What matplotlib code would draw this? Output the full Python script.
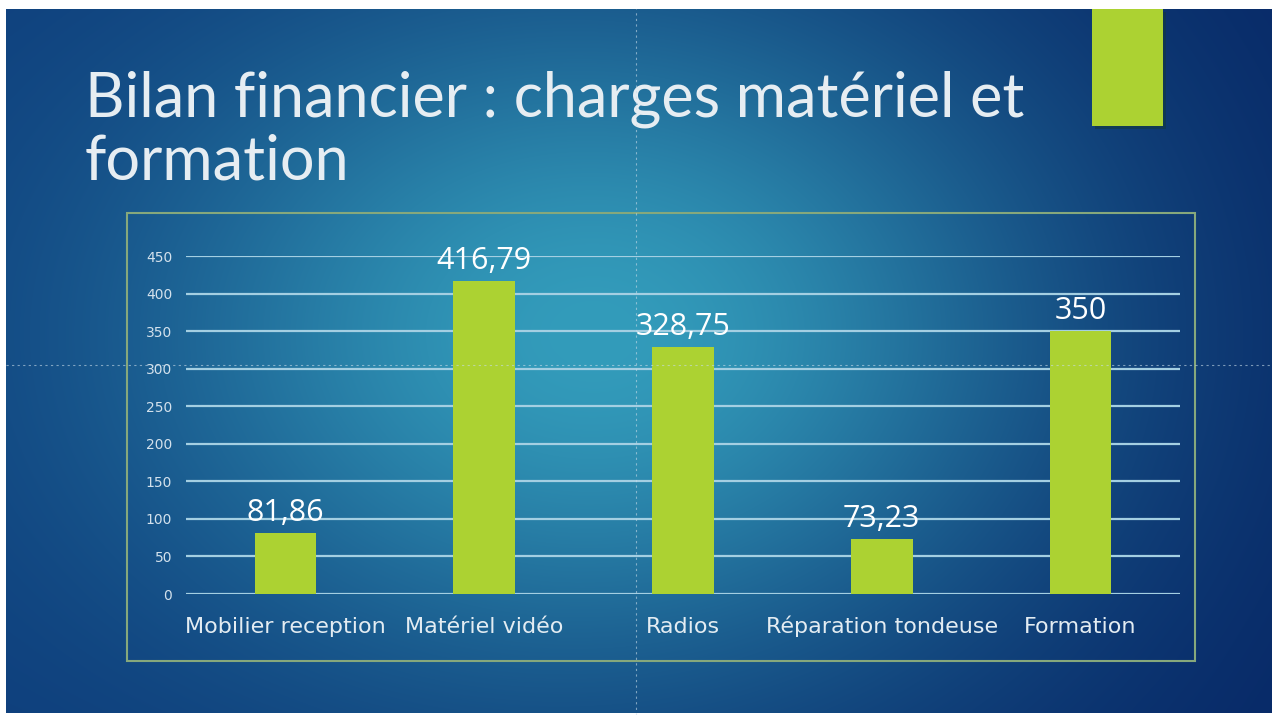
import numpy as np
import matplotlib
matplotlib.use("Agg")
from matplotlib import pyplot as plt
from matplotlib.patches import Rectangle
from matplotlib.lines import Line2D

categories = ["Mobilier reception", "Matériel vidéo", "Radios",
              "Réparation tondeuse", "Formation"]
values = [81.86, 416.79, 328.75, 73.23, 350]
value_labels = ["81,86", "416,79", "328,75", "73,23", "350"]
yticks = [0, 50, 100, 150, 200, 250, 300, 350, 400, 450]
title = "Bilan financier : charges matériel et\nformation"

W, H = 1272, 715
fig = plt.figure(figsize=(W / 100, H / 100), dpi=100)
fig.patch.set_facecolor("white")

def px(x, y):
    # pixel (top-left origin) -> figure fraction
    return x / W, 1 - y / H

# background gradient (slide)
bg = fig.add_axes([6 / W, 2 / H, (W - 6) / W, (H - 11) / H])
bg.set_axis_off()
yy, xx = np.mgrid[0:H, 0:W]
left_c = np.array([0x0d, 0x3b, 0x7a]) / 255
right_c = np.array([0x07, 0x27, 0x66]) / 255
light_c = np.array([0x33, 0x9c, 0xbb]) / 255
s = (xx / W)[..., None]
dark = left_c * (1 - s) + right_c * s
t = np.exp(-((xx - 590) / 460.0) ** 2 - ((yy - 330) / 350.0) ** 2)[..., None]
img = dark + t * (light_c - dark)
bg.imshow(img, aspect="auto", extent=(0, 1, 0, 1))
bg.set_xlim(0, 1)
bg.set_ylim(0, 1)

# green accent block top right
x0, y0 = px(1092, 126)
x1, y1 = px(1163, 9)
fig.patches.append(Rectangle((x0 + 0.002, y0 - 0.004), x1 - x0, y1 - y0,
                             transform=fig.transFigure, facecolor="#123a40",
                             edgecolor="none", alpha=0.6, zorder=1))
fig.patches.append(Rectangle((x0, y0), x1 - x0, y1 - y0,
                             transform=fig.transFigure, facecolor="#acd232",
                             edgecolor="none", zorder=2))

# title
tx, ty = px(85, 117)
fig.text(tx, ty, title.split("\n")[0], color="#e6edf2", fontsize=44,
         family="Lato", va="baseline", ha="left")
tx, ty = px(85, 180)
fig.text(tx, ty, title.split("\n")[1], color="#e6edf2", fontsize=44,
         family="Lato", va="baseline", ha="left")

# chart frame
fx0, fy0 = px(127, 661)
fx1, fy1 = px(1195, 213)
fig.patches.append(Rectangle((fx0, fy0), fx1 - fx0, fy1 - fy0,
                             transform=fig.transFigure, facecolor="none",
                             edgecolor="#86a87c", lw=1.5, zorder=3))

# chart
ax = fig.add_axes([186 / W, (H - 594) / H, 994 / W, 338 / H])
ax.patch.set_alpha(0)
x = np.arange(len(categories))
ax.set_axisbelow(True)
for v in yticks:
    ax.axhline(v, color="#a4cfe2", lw=1.6, zorder=0)
ax.bar(x, values, width=0.31, color="#acd232", zorder=2)
for xi, v, lab in zip(x, values, value_labels):
    ax.annotate(lab, (xi, v), xytext=(0, 12), textcoords="offset pixels",
                ha="center", va="baseline", color="white", fontsize=22,
                family="Open Sans")
ax.set_xlim(-0.5, 4.5)
ax.set_ylim(0, 450)
ax.set_yticks(yticks)
ax.set_yticklabels([str(v) for v in yticks], color="#d3e1ec", fontsize=10,
                   family="DejaVu Sans")
ax.set_xticks(x)
ax.set_xticklabels(categories, color="#e3ecf2", fontsize=16,
                   family="DejaVu Sans", va="baseline")
ax.tick_params(axis="y", length=0, pad=10)
ax.tick_params(axis="x", length=0, pad=28)
for sp in ax.spines.values():
    sp.set_visible(False)

# dotted guide lines of the slide editor
gx, _ = px(636, 0)
fig.lines.append(Line2D([gx, gx], [0, 1 - 9 / H], transform=fig.transFigure,
                        color="#c8dbe8", lw=0.8, ls=(0, (2, 3)), alpha=0.6,
                        zorder=4))
_, gy = px(0, 365)
fig.lines.append(Line2D([6 / W, 1], [gy, gy], transform=fig.transFigure,
                        color="#c8dbe8", lw=0.8, ls=(0, (2, 3)), alpha=0.6,
                        zorder=4))

fig.savefig("out.png", dpi=100, facecolor=fig.get_facecolor())
